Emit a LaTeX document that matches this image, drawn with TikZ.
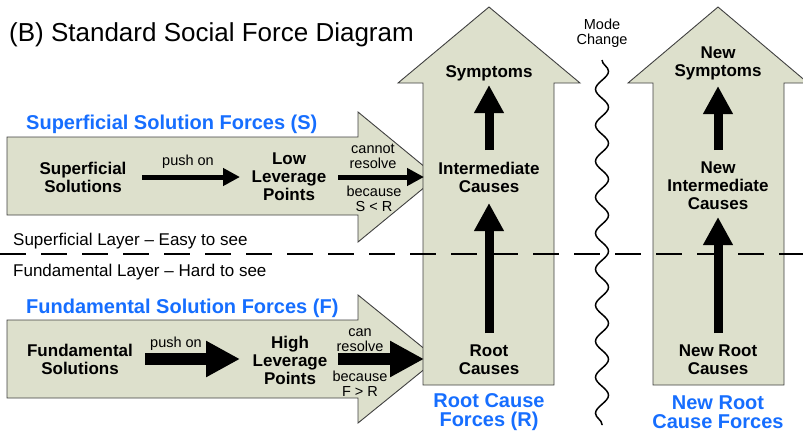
\documentclass[tikz,border=0pt]{standalone}
\usepackage{fontspec}
\setmainfont{Liberation Sans}
\usetikzlibrary{arrows.meta,decorations.pathmorphing}
\definecolor{olive}{RGB}{221,224,204}
\definecolor{edge}{RGB}{64,64,64}
\definecolor{forceblue}{RGB}{22,110,255}
\begin{document}
\begin{tikzpicture}[x=1pt,y=-1pt,
  bigarrow/.style={fill=olive,draw=edge,line width=0.9pt,line join=miter},
  lbl/.style={font=\fontsize{17}{18}\selectfont\bfseries,align=center,inner sep=0pt},
  small/.style={font=\fontsize{14.5}{15}\selectfont,align=center,inner sep=0pt},
  blue/.style={font=\fontsize{20}{19.5}\selectfont\bfseries,text=forceblue,align=center,inner sep=0pt},
  plain/.style={font=\fontsize{17}{18}\selectfont,inner sep=0pt},
  thinarrow/.style={line width=5pt,-{Triangle[width=17pt,length=17pt]}},
  blockarrow/.style={line width=12pt,-{Triangle[width=34pt,length=34pt]}},
  uparrow/.style={line width=9pt,-{Triangle[width=28pt,length=28pt]}}]
\useasboundingbox (0,0) rectangle (803,432);
% big arrows
\draw[bigarrow] (7,137) -- (358,137) -- (358,112) -- (437,177) -- (358,242) -- (358,215) -- (7,215) -- cycle;
\draw[bigarrow] (7,320) -- (358,320) -- (358,295) -- (437,359) -- (358,423) -- (358,398) -- (7,398) -- cycle;
\draw[bigarrow] (423,385) -- (423,83) -- (398,83) -- (489,7) -- (580,83) -- (554,83) -- (554,385) -- cycle;
\draw[bigarrow] (653,385) -- (653,83) -- (628,83) -- (718,7) -- (808,83) -- (784,83) -- (784,385) -- cycle;
% dashed layer line
\draw[line width=1.4pt,dash pattern=on 26pt off 15pt] (0,254) -- (803,254);
% wave
\draw[line width=1.5pt,decorate,decoration={snake,segment length=36pt,amplitude=6.5pt}] (602,60) -- (602,425);
% texts
\node[font=\fontsize{26}{28}\selectfont,anchor=west,inner sep=0pt] (title) at (9,35) {(B) Standard Social Force Diagram};
\node[small] (mode) at (602,33) {Mode\\Change};
\node[blue,anchor=west] (sforce) at (26,124) {Superficial Solution Forces (S)};
\node[blue,anchor=west] (fforce) at (26,308) {Fundamental Solution Forces (F)};
\node[plain,anchor=west] (slayer) at (13,241) {Superficial Layer – Easy to see};
\node[plain,anchor=west] (flayer) at (13,272) {Fundamental Layer – Hard to see};
% top row
\node[lbl] (ssol) at (83,177) {Superficial\\Solutions};
\node[lbl] (low) at (289,177) {Low\\Leverage\\Points};
\node[small] (push1) at (188,162) {push on};
\node[small] (cannot) at (373,156) {cannot\\resolve};
\node[small] (because1) at (374,199) {because\\S < R};
\coordinate (s1a) at (142,177); \coordinate (s1b) at (240,177);
\coordinate (s2a) at (338,177); \coordinate (s2b) at (424,177);
\draw[thinarrow] (s1a) -- (s1b);
\draw[thinarrow] (s2a) -- (s2b);
% bottom row
\node[lbl] (fsol) at (80,359) {Fundamental\\Solutions};
\node[lbl] (high) at (290,360) {High\\Leverage\\Points};
\node[small] (push2) at (176,344) {push on};
\node[small] (can) at (360,340) {can\\resolve};
\node[small] (because2) at (360,384) {because\\F > R};
\coordinate (f1a) at (145,359); \coordinate (f1b) at (240,359);
\coordinate (f2a) at (338,359); \coordinate (f2b) at (424,359);
\draw[blockarrow] (f1a) -- (f1b);
\draw[blockarrow] (f2a) -- (f2b);
% left vertical
\node[lbl] (symp) at (489,73) {Symptoms};
\node[lbl] (inter) at (489,177) {Intermediate\\Causes};
\node[lbl] (root) at (489,360) {Root\\Causes};
\node[blue] (rforce) at (489,412) {Root Cause\\Forces (R)};
\coordinate (v1a) at (489,150); \coordinate (v1b) at (489,85);
\coordinate (v2a) at (489,333); \coordinate (v2b) at (489,203);
\draw[uparrow] (v1a) -- (v1b);
\draw[uparrow] (v2a) -- (v2b);
% right vertical
\node[lbl] (nsymp) at (718,63) {New\\Symptoms};
\node[lbl] (ninter) at (718,186) {New\\Intermediate\\Causes};
\node[lbl] (nroot) at (718,360) {New Root\\Causes};
\node[blue] (nforce) at (718,412) {New Root\\Cause Forces};
\coordinate (w1a) at (718,150); \coordinate (w1b) at (718,86);
\coordinate (w2a) at (718,333); \coordinate (w2b) at (718,217);
\draw[uparrow] (w1a) -- (w1b);
\draw[uparrow] (w2a) -- (w2b);
\end{tikzpicture}
\end{document}
